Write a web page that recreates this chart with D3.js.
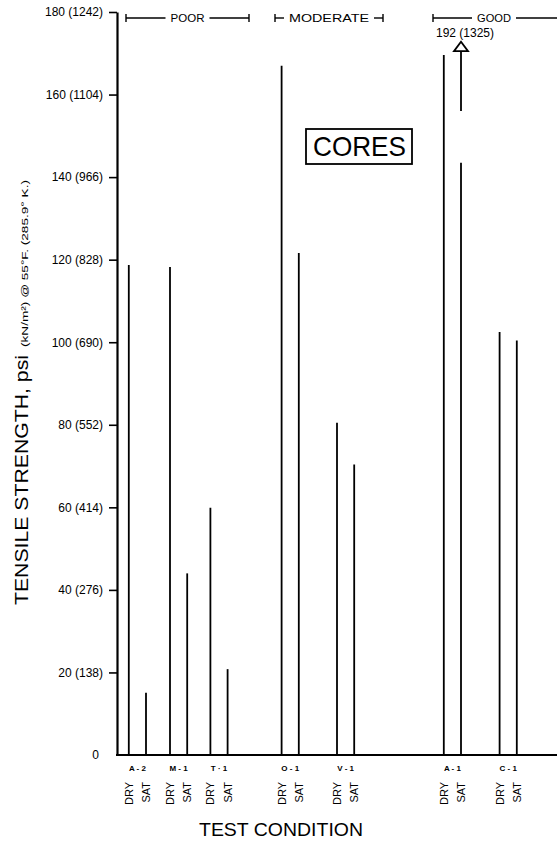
<!DOCTYPE html>
<html>
<head>
<meta charset="utf-8">
<script src="https://cdn.jsdelivr.net/npm/d3@7"></script>
<style>
  body { margin: 0; background: #fff; }
  svg { display: block; font-family: "Liberation Sans", Arial, sans-serif; }
</style>
</head>
<body>
<svg id="chart" width="557" height="845"></svg>
<script>
// tensile strength of cores, psi
const specimens = ["A-2", "M-1", "T-1", "O-1", "V-1", "A-1", "C-1"];
const specimenLabels = ["A - 2", "M - 1", "T · 1", "O - 1", "V - 1", "A - 1", "C - 1"];
const groupPos = [5.1, 15.4, 25.5, 43.3, 57.15, 83.85, 97.8];   // along test condition axis
const conditions = ["DRY", "SAT"];
const dryValues = [118.7, 118.2, 59.9, 167.0, 80.5, 169.6, 102.5];
const satValues = [15.1, 44.0, 20.8, 121.6, 70.4, 192.0, 100.4];

const yTicks = [0, 20, 40, 60, 80, 100, 120, 140, 160, 180];
const yTickLabels = ["0", "20 (138)", "40 (276)", "60 (414)", "80 (552)", "100 (690)",
  "120 (828)", "140 (966)", "160 (1104)", "180 (1242)"];

const ratings = ["POOR", "MODERATE", "GOOD"];
const ratingFrom = [2.25, 39.5, 79];
const ratingTo = [33, 66.5, 109.5];
const ratingTextLen = [34, 80, 34];

const offLabel = "192 (1325)";
const breakLow = 143.5, breakHigh = 156, arrowBase = 170.5, arrowTip = 172.8;

const svg = d3.select("#chart");
const axisX = 117, zeroY = 755;

const y = d3.scaleLinear().domain([0, 180]).range([zeroY, 12]);
const x = d3.scaleLinear().domain([0, 110]).range([axisX, 557]);
const sub = d3.scalePoint().domain(conditions).range([-8.6, 8.6]);

// y axis
const yAxis = svg.append("g")
  .attr("transform", `translate(${axisX},0)`)
  .call(d3.axisLeft(y)
    .tickValues(yTicks)
    .tickSize(8)
    .tickSizeOuter(0)
    .tickPadding(6)
    .tickFormat((d, i) => yTickLabels[i]));
yAxis.select(".domain").attr("stroke-width", 2.2);
yAxis.selectAll(".tick line").attr("stroke-width", 1.6);
yAxis.selectAll(".tick").filter(d => d === 0).select("line").remove();
yAxis.selectAll(".tick").filter(d => d === 0).select("text").attr("dx", -4);
yAxis.selectAll(".tick text")
  .attr("font-size", 12)
  .attr("font-family", "Liberation Sans, Arial, sans-serif")
  .attr("fill", "#000");

// zero line
svg.append("line")
  .attr("x1", axisX - 1).attr("x2", x.range()[1])
  .attr("y1", zeroY).attr("y2", zeroY)
  .attr("stroke", "#000").attr("stroke-width", 2.2);

// bars as thin vertical lines
const rows = [];
specimens.forEach((s, i) => {
  rows.push({ spec: s, cond: "DRY", pos: groupPos[i], value: dryValues[i] });
  rows.push({ spec: s, cond: "SAT", pos: groupPos[i], value: satValues[i] });
});
const bx = d => x(d.pos) + sub(d.cond);

const bars = svg.append("g").attr("stroke", "#000").attr("stroke-width", 1.8);
rows.filter(d => d.value <= y.domain()[1]).forEach(d => {
  bars.append("line")
    .attr("x1", bx(d)).attr("x2", bx(d))
    .attr("y1", y(0)).attr("y2", y(d.value));
});

// off-scale value: broken bar with arrow
rows.filter(d => d.value > y.domain()[1]).forEach(d => {
  const cx = bx(d);
  bars.append("line").attr("x1", cx).attr("x2", cx).attr("y1", y(0)).attr("y2", y(breakLow));
  bars.append("line").attr("x1", cx).attr("x2", cx).attr("y1", y(breakHigh)).attr("y2", y(arrowBase));
  svg.append("path")
    .attr("d", `M${cx - 7},${y(arrowBase)} L${cx + 7},${y(arrowBase)} L${cx},${y(arrowTip)} Z`)
    .attr("fill", "#fff").attr("stroke", "#000").attr("stroke-width", 1.8)
    .attr("stroke-linejoin", "miter");
  svg.append("text")
    .attr("x", cx + 4).attr("y", y(arrowTip) - 4.5)
    .attr("text-anchor", "middle")
    .attr("font-size", 12)
    .text(offLabel);
});

// specimen labels
svg.append("g").selectAll("text")
  .data(specimens)
  .join("text")
  .attr("x", (d, i) => x(groupPos[i]))
  .attr("y", 771)
  .attr("text-anchor", "middle")
  .attr("font-size", 8)
  .attr("font-weight", "bold")
  .text((d, i) => specimenLabels[i]);

// DRY / SAT labels
svg.append("g").selectAll("text")
  .data(rows)
  .join("text")
  .attr("transform", d => `translate(${bx(d) + 4},782) rotate(-90)`)
  .attr("text-anchor", "end")
  .attr("font-size", 11)
  .text(d => d.cond);

// rating brackets
const rg = svg.append("g").attr("stroke", "#000").attr("stroke-width", 1.4);
ratings.forEach((r, i) => {
  const x0 = x(ratingFrom[i]), x1 = x(ratingTo[i]);
  const mid = (x0 + x1) / 2, half = ratingTextLen[i] / 2, by = 18, gap = 5;
  const last = i === ratings.length - 1;
  rg.append("line").attr("x1", x0).attr("x2", x0).attr("y1", by - 4).attr("y2", by + 4);
  rg.append("line").attr("x1", x0).attr("x2", mid - half - gap).attr("y1", by).attr("y2", by);
  rg.append("line").attr("x1", mid + half + gap).attr("x2", last ? x.range()[1] : x1)
    .attr("y1", by).attr("y2", by);
  if (!last) rg.append("line").attr("x1", x1).attr("x2", x1).attr("y1", by - 4).attr("y2", by + 4);
  svg.append("text")
    .attr("x", mid - half).attr("y", by + 4)
    .attr("font-size", 11)
    .attr("textLength", ratingTextLen[i])
    .attr("lengthAdjust", "spacingAndGlyphs")
    .text(r);
});

// CORES box
svg.append("rect")
  .attr("x", 306).attr("y", 129).attr("width", 106).attr("height", 35)
  .attr("fill", "none").attr("stroke", "#000").attr("stroke-width", 1.8);
svg.append("text")
  .attr("x", 313).attr("y", 156)
  .attr("font-size", 28)
  .attr("textLength", 93)
  .attr("lengthAdjust", "spacingAndGlyphs")
  .text("CORES");

// axis titles
svg.append("text")
  .attr("transform", "translate(28,605) rotate(-90)")
  .attr("font-size", 18)
  .attr("textLength", 250)
  .attr("lengthAdjust", "spacingAndGlyphs")
  .text("TENSILE STRENGTH, psi");
svg.append("text")
  .attr("transform", "translate(28,347) rotate(-90)")
  .attr("font-size", 9)
  .attr("textLength", 167)
  .attr("lengthAdjust", "spacingAndGlyphs")
  .text("(kN/m²) @ 55°F. (285.9° K.)");

svg.append("text")
  .attr("x", 199).attr("y", 836)
  .attr("font-size", 18)
  .attr("textLength", 164)
  .attr("lengthAdjust", "spacingAndGlyphs")
  .text("TEST CONDITION");
</script>
</body>
</html>
